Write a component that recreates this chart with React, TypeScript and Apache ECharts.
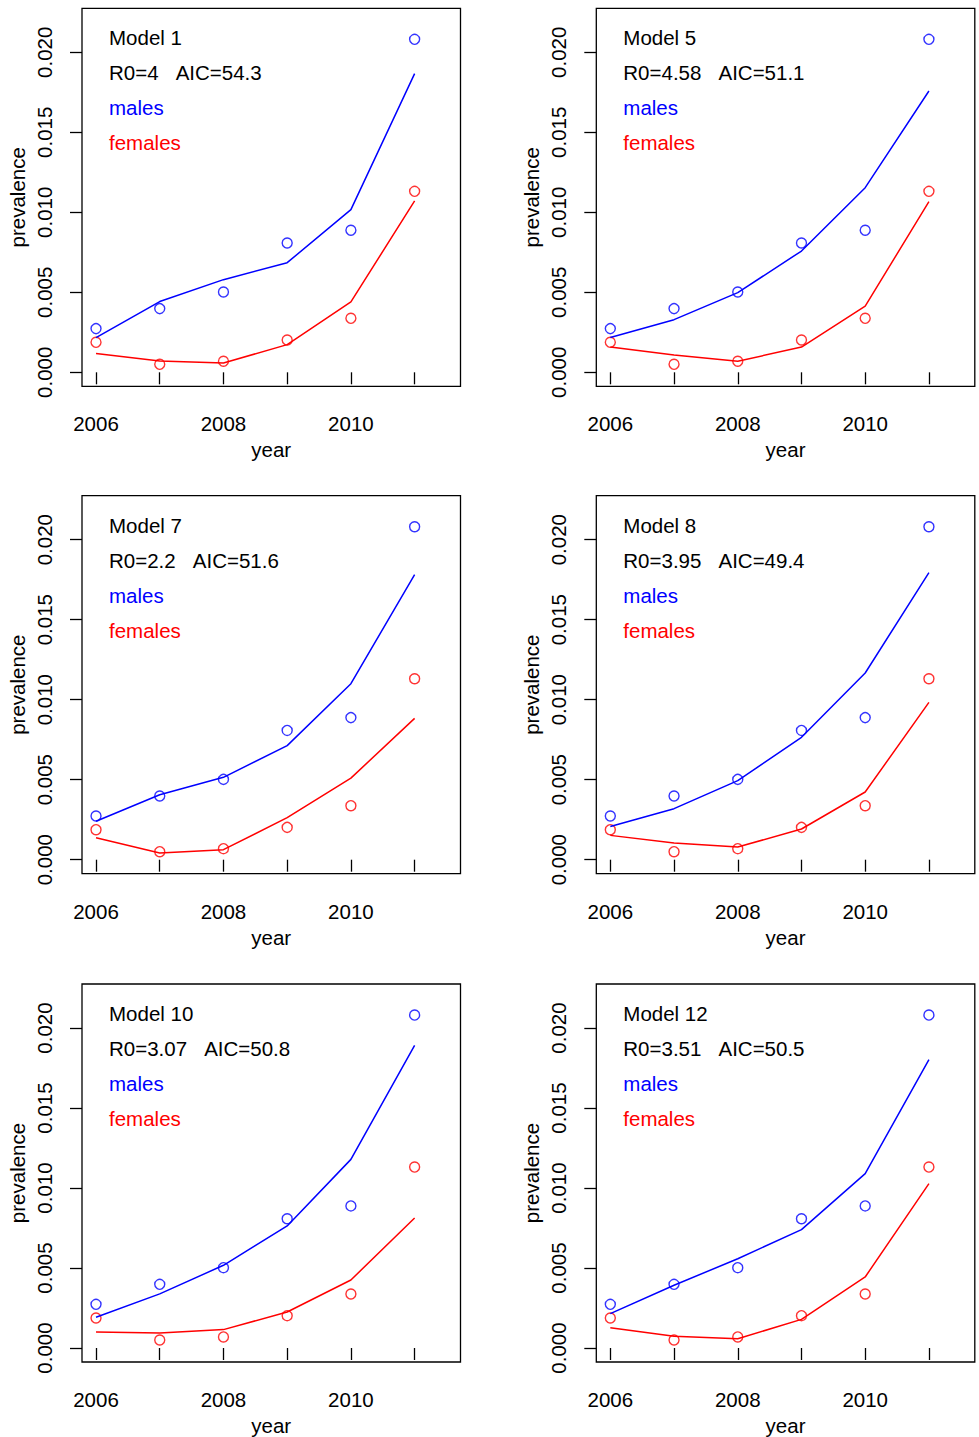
import React, { useEffect, useRef } from "react";
import * as echarts from "echarts";

const years = [2006, 2007, 2008, 2009, 2010, 2011];
const yearLabels = [2006, 2008, 2010];
const yTicks = [0, 0.005, 0.01, 0.015, 0.02];

const obsMales = [0.00273, 0.00398, 0.00502, 0.00808, 0.00888, 0.02081];
const obsFemales = [0.001875, 0.0005, 0.00069, 0.00202, 0.003375, 0.01131];

const modelNames = ["Model 1", "Model 5", "Model 7", "Model 8", "Model 10", "Model 12"];
const r0Values = ["4", "4.58", "2.2", "3.95", "3.07", "3.51"];
const aicValues = ["54.3", "51.1", "51.6", "49.4", "50.8", "50.5"];

const fitMales1 = [0.00217, 0.00442, 0.00579, 0.00685, 0.01017, 0.01867];
const fitFemales1 = [0.00117, 0.00071, 0.00058, 0.00173, 0.0044, 0.01071];
const fitMales5 = [0.00217, 0.00329, 0.00498, 0.00758, 0.01154, 0.01758];
const fitFemales5 = [0.00158, 0.00108, 0.00069, 0.00158, 0.00413, 0.01067];
const fitMales7 = [0.0024, 0.00406, 0.00515, 0.00713, 0.011, 0.01781];
const fitFemales7 = [0.001375, 0.00042, 0.000625, 0.002625, 0.0051, 0.00883];
const fitMales8 = [0.00208, 0.00319, 0.00494, 0.00765, 0.01167, 0.01794];
const fitFemales8 = [0.00152, 0.00104, 0.00079, 0.00192, 0.00423, 0.00983];
const fitMales10 = [0.00192, 0.00338, 0.00517, 0.00763, 0.01179, 0.01892];
const fitFemales10 = [0.001, 0.00094, 0.00115, 0.00225, 0.00425, 0.008125];
const fitMales12 = [0.00215, 0.00392, 0.00558, 0.0074, 0.0109, 0.01802];
const fitFemales12 = [0.00127, 0.00073, 0.00058, 0.00179, 0.00444, 0.01027];

const fitMales = [fitMales1, fitMales5, fitMales7, fitMales8, fitMales10, fitMales12];
const fitFemales = [fitFemales1, fitFemales5, fitFemales7, fitFemales8, fitFemales10, fitFemales12];

const FONT = "'Liberation Sans', Arial, sans-serif";
const FS = 20.5;
const BLUE = "#0000ff";
const RED = "#ff0000";
const GAP = "\u00a0\u00a0\u00a0";

const colLefts = [82, 596.3];
const rowTops = [8.3, 495.7, 984];
const GW = 378.5;
const GH = 378;

function pairs(vals: number[]) {
  return years.map((y, i) => [y, vals[i]]);
}

export default function App() {
  const ref = useRef<HTMLDivElement>(null);
  useEffect(() => {
    if (!ref.current) return;
    const chart = echarts.init(ref.current, undefined, { renderer: "svg" });
    const grids: any[] = [];
    const xAxes: any[] = [];
    const yAxes: any[] = [];
    const series: any[] = [];
    const graphics: any[] = [];
    for (let p = 0; p < 6; p++) {
      const left = colLefts[p % 2];
      const top = rowTops[Math.floor(p / 2)];
      grids.push({
        left,
        top,
        width: GW,
        height: GH,
        show: true,
        borderColor: "#000",
        borderWidth: 1.3,
        backgroundColor: "transparent",
        containLabel: false,
      });
      xAxes.push({
        gridIndex: p,
        type: "value",
        min: 2005.78,
        max: 2011.72,
        axisLine: { show: false },
        splitLine: { show: false },
        axisTick: {
          show: true,
          inside: false,
          length: 12,
          customValues: years,
          lineStyle: { color: "#000", width: 1.3 },
        },
        axisLabel: {
          customValues: yearLabels,
          formatter: (v: number) => String(v),
          fontSize: FS,
          fontFamily: FONT,
          color: "#000",
          margin: 27,
        },
        name: "year",
        nameLocation: "middle",
        nameGap: 53,
        nameTextStyle: { fontSize: FS, fontFamily: FONT, color: "#000" },
      });
      yAxes.push({
        gridIndex: p,
        type: "value",
        min: -0.000875,
        max: 0.02275,
        axisLine: { show: false },
        splitLine: { show: false },
        axisTick: {
          show: true,
          inside: false,
          length: 12,
          customValues: yTicks,
          lineStyle: { color: "#000", width: 1.3 },
        },
        axisLabel: {
          customValues: yTicks,
          formatter: (v: number) => v.toFixed(3),
          rotate: 90,
          fontSize: FS,
          fontFamily: FONT,
          color: "#000",
          margin: 27,
        },
        name: "prevalence",
        nameLocation: "middle",
        nameGap: 54,
        nameTextStyle: { fontSize: FS, fontFamily: FONT, color: "#000" },
      });
      series.push(
        {
          type: "line",
          xAxisIndex: p,
          yAxisIndex: p,
          data: pairs(fitMales[p]),
          showSymbol: false,
          lineStyle: { color: BLUE, width: 1.5 },
          itemStyle: { color: BLUE },
          silent: true,
        },
        {
          type: "line",
          xAxisIndex: p,
          yAxisIndex: p,
          data: pairs(fitFemales[p]),
          showSymbol: false,
          lineStyle: { color: RED, width: 1.5 },
          itemStyle: { color: RED },
          silent: true,
        },
        {
          type: "scatter",
          xAxisIndex: p,
          yAxisIndex: p,
          data: pairs(obsMales),
          symbol: "circle",
          symbolSize: 10,
          itemStyle: { color: "transparent", borderColor: BLUE, borderWidth: 1.4 },
          silent: true,
        },
        {
          type: "scatter",
          xAxisIndex: p,
          yAxisIndex: p,
          data: pairs(obsFemales),
          symbol: "circle",
          symbolSize: 10,
          itemStyle: { color: "transparent", borderColor: RED, borderWidth: 1.4 },
          silent: true,
        }
      );
      const tx = left + 27;
      const texts = [
        { t: modelNames[p], c: "#000" },
        { t: "R0=" + r0Values[p] + GAP + "AIC=" + aicValues[p], c: "#000" },
        { t: "males", c: BLUE },
        { t: "females", c: RED },
      ];
      texts.forEach((o, k) => {
        graphics.push({
          type: "text",
          x: tx,
          y: top + 29.4 + 35 * k,
          style: {
            text: o.t,
            fill: o.c,
            fontSize: FS,
            fontFamily: FONT,
            textAlign: "left",
            textVerticalAlign: "middle",
          },
        });
      });
    }
    chart.setOption({
      animation: false,
      backgroundColor: "#fff",
      grid: grids,
      xAxis: xAxes,
      yAxis: yAxes,
      series,
      graphic: graphics,
    });
    return () => chart.dispose();
  }, []);
  return (
    <div
      ref={ref}
      style={{ position: "absolute", left: 0, top: 0, width: 979, height: 1437 }}
    />
  );
}
